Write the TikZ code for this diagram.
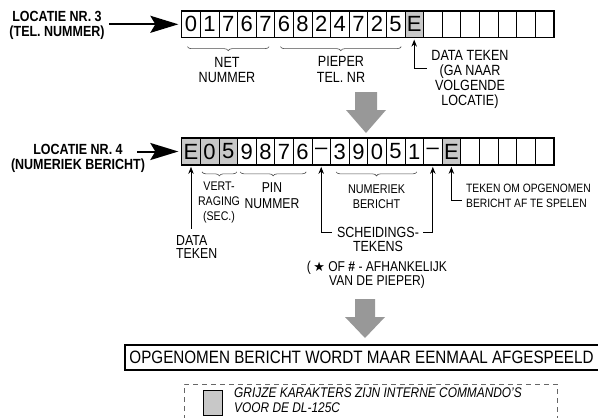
\documentclass[tikz,border=0pt]{standalone}
\usepackage{fontspec}
\setmainfont{Liberation Sans}[FakeStretch=0.85]
\newfontfamily\cellfont{Liberation Sans}
\newfontfamily\symfont{DejaVu Sans}
\usetikzlibrary{arrows.meta, positioning, decorations.pathreplacing, calc}

\definecolor{cellgray}{RGB}{200,200,200}
\definecolor{blockgray}{RGB}{152,152,152}

\begin{document}
\begin{tikzpicture}[
    x=1pt, y=-1pt,
    cell/.style={rectangle, draw, line width=0.7pt, minimum width=18.6pt, minimum height=26pt, inner sep=0pt, font=\cellfont\fontsize{22}{22}\selectfont},
    rowframe/.style={line width=1.5pt},
    loclabel/.style={align=center, inner sep=0pt, font=\bfseries\fontsize{14.7}{15}\selectfont},
    lbl/.style={align=center, inner sep=0pt, font=\fontsize{14.8}{15.5}\selectfont},
    small/.style={align=center, inner sep=0pt, font=\fontsize{12.7}{15}\selectfont},
    bigarrow/.style={line width=2pt, -{Stealth[length=28pt,width=17pt,inset=5pt]}, shorten >=3pt},
    uparrow/.style={line width=0.8pt, {Stealth[length=7pt,width=5.5pt]}-, shorten <=2pt},
    brc/.style={draw=black!70, line width=0.6pt, decorate, decoration={brace, mirror, amplitude=4pt}},
    blockarrow/.style={fill=blockgray}
]
\useasboundingbox (0,0) rectangle (598,418);

% location 3: phone number
\foreach \t/\f [count=\i] in {0/white,1/white,7/white,6/white,7/white,6/white,8/white,2/white,4/white,7/white,2/white,5/white,E/cellgray}
    \node[cell, fill=\f] (r1c\i) at ({172.4+18.6*\i},24.3) {\t};
\foreach \i in {14,...,20}
    \node[cell] (r1c\i) at ({172.4+18.6*\i},24.3) {};
\draw[rowframe] (r1c1.north west) rectangle (r1c20.south east);

\node[loclabel] (loc3) at (57,25.5) {LOCATIE NR. 3\\(TEL. NUMMER)};
\coordinate (in3) at (109,24.3);
\draw[bigarrow] (in3) -- (r1c1.west);

\draw[brc] ([xshift=6pt,yshift=-9pt]r1c1.south west) -- ([xshift=-6pt,yshift=-9pt]r1c5.south east);
\draw[brc] ([xshift=6pt,yshift=-9pt]r1c6.south west) -- ([xshift=-4pt,yshift=-9pt]r1c12.south east);
\node[lbl] (net) at (227,70) {NET\\NUMMER};
\node[lbl] (pieper) at (341,69.5) {PIEPER\\TEL. NR};

\node[lbl, font=\fontsize{14.8}{15}\selectfont] (dtk1) at (470,79.5) {DATA TEKEN\\(GA NAAR\\VOLGENDE\\LOCATIE)};
\coordinate (dtk1end) at (427,68);
\draw[uparrow] (r1c13.south) |- (dtk1end);

% gray arrow down
\fill[blockarrow] (355,92) -- (377,92) -- (377,110) -- (386,110) -- (366,133) -- (346,110) -- (355,110) -- cycle;

% location 4: numeric message
\foreach \t/\f [count=\i] in {E/cellgray,0/cellgray,5/cellgray,9/white,8/white,7/white,6/white,–/white,3/white,9/white,0/white,5/white,1/white,–/white,E/cellgray}
    \node[cell, fill=\f] (r2c\i) at ({172.4+18.6*\i},151.5) {\t};
\foreach \i in {16,...,20}
    \node[cell] (r2c\i) at ({172.4+18.6*\i},151.5) {};
\draw[rowframe] (r2c1.north west) rectangle (r2c20.south east);

\node[loclabel] (loc4) at (78,158.5) {LOCATIE NR. 4\\(NUMERIEK BERICHT)};
\coordinate (in4) at (137,151.5);
\draw[bigarrow] (in4) -- (r2c1.west);

\draw[brc] ([xshift=2pt,yshift=-7pt]r2c2.south west) -- ([xshift=-1pt,yshift=-7pt]r2c3.south east);
\draw[brc] ([xshift=3pt,yshift=-7pt]r2c4.south west) -- ([xshift=-6pt,yshift=-7pt]r2c7.south east);
\draw[brc] ([xshift=6pt,yshift=-7pt]r2c9.south west) -- ([xshift=-7pt,yshift=-7pt]r2c13.south east);
\node[small, font=\fontsize{12.5}{15}\selectfont] (vert) at (219,202) {VERT-\\RAGING\\(SEC.)};
\node[lbl, font=\fontsize{14.3}{15.5}\selectfont] (pin) at (272,195.5) {PIN\\NUMMER};
\node[small] (numer) at (376.5,196.5) {NUMERIEK\\BERICHT};

\node[lbl, align=left, anchor=north west, font=\fontsize{14.5}{13.5}\selectfont] (dtk2) at (176,235) {DATA\\TEKEN};
\draw[uparrow, shorten >=6pt] (r2c1.south) -- (r2c1.south |- dtk2.north);

\node[lbl, font=\fontsize{14.7}{14}\selectfont] (sch) at (378,239) {SCHEIDINGS-\\TEKENS};
\coordinate (sch1) at (332,232);
\coordinate (sch2) at (423,232);
\draw[uparrow] (r2c8.south) |- (sch1);
\draw[uparrow] (r2c14.south) |- (sch2);
\node[lbl, font=\fontsize{14.2}{14}\selectfont] (star) at (377,275) {(\,{\symfont\fontsize{13}{14}\selectfont ★} OF \textbf{\#} - AFHANKELIJK\\VAN DE PIEPER)};

\node[small, align=left, anchor=west, font=\fontsize{12.1}{15}\selectfont] (tk) at (466,195.5) {TEKEN OM OPGENOMEN\\BERICHT AF TE SPELEN};
\coordinate (tkend) at (462,200);
\draw[uparrow] (r2c15.south) |- (tkend);

% gray arrow down
\fill[blockarrow] (355,299) -- (375,299) -- (375,317) -- (385,317) -- (365,338) -- (345,317) -- (355,317) -- cycle;

% result
\node[inner sep=0pt, minimum width=473pt, minimum height=25pt, font=\fontsize{17.9}{18}\selectfont] (msg) at (361.5,357.5) {OPGENOMEN BERICHT WORDT MAAR EENMAAL AFGESPEELD};
\draw[line width=1.8pt] (msg.north east) -- (msg.north west) -- (msg.south west) -- (msg.south east);

% legend
\draw[dashed, black!60, line width=0.7pt, dash pattern=on 5pt off 4pt] (184,420) -- (184,384) -- (557,384) -- (557,420);
\node[cell, fill=cellgray, minimum width=19pt, minimum height=25pt] (key) at (212.5,402.5) {};
\node[align=left, anchor=west, inner sep=0pt, font=\itshape\fontsize{14}{15}\selectfont] (keytxt) at (234,400.5) {GRIJZE KARAKTERS ZIJN INTERNE COMMANDO'S\\VOOR DE DL-125C};

\end{tikzpicture}
\end{document}
